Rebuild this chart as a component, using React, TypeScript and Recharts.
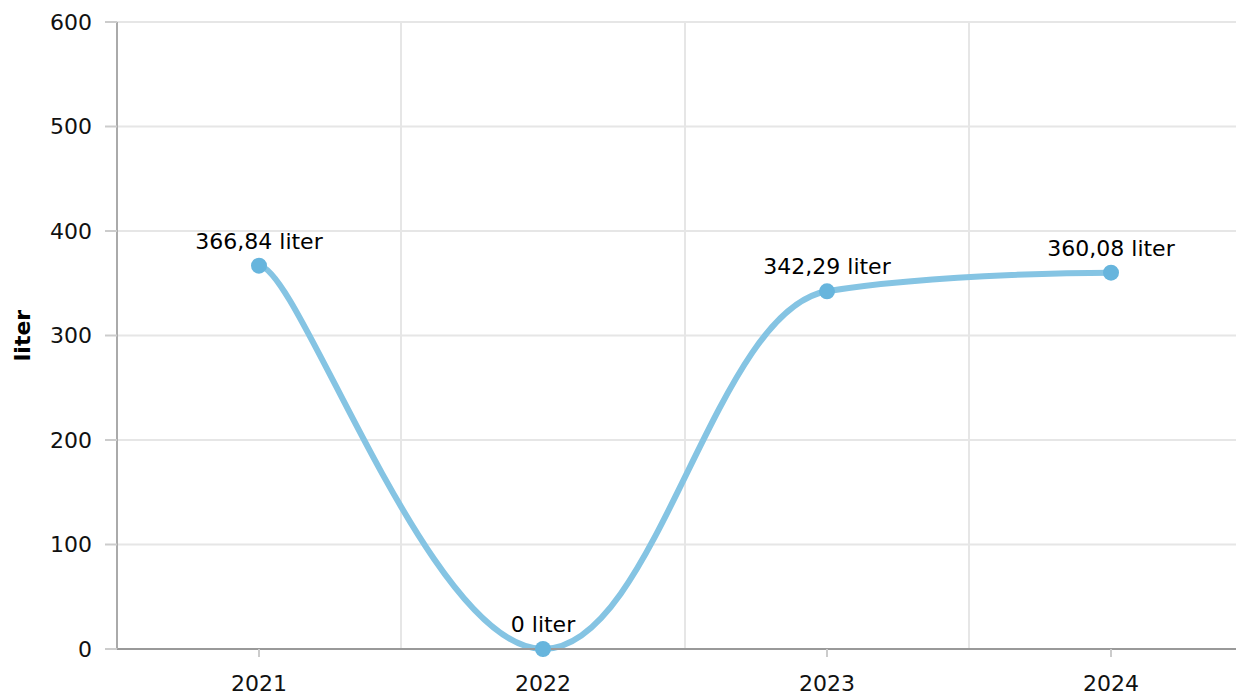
import { LineChart, Line, XAxis, YAxis, CartesianGrid, ReferenceLine, LabelList } from 'recharts';

const years = ['2021', '2022', '2023', '2024'];
const values = [366.84, 0, 342.29, 360.08];
const yTicks = [0, 100, 200, 300, 400, 500, 600];
const bandEdges = [0.5, 1.5, 2.5, 3.5];

const data = years.map((year, i) => ({ idx: i, year, value: values[i] }));

const FONT = '"DejaVu Sans", Verdana, sans-serif';

const fmt = (v: number) => (v === 0 ? '0 liter' : `${v.toFixed(2).replace('.', ',')} liter`);

// spline like the source: control points at 1/2.5 of the neighbour distance,
// flattened at local extremes; the first point only gets a short flat handle
function splineCurve(context: any) {
  let pts: [number, number][] = [];
  return {
    areaStart() {},
    areaEnd() {},
    lineStart() {
      pts = [];
    },
    point(x: number, y: number) {
      pts.push([+x, +y]);
    },
    lineEnd() {
      const smoothing = 1.5;
      const denom = smoothing + 1;
      const right: ([number, number] | null)[] = [];
      pts.forEach(([x, y], i) => {
        let left: [number, number] | null = null;
        if (i > 0 && i < pts.length - 1) {
          const [lx, ly] = pts[i - 1];
          const [nx, ny] = pts[i + 1];
          const lcx = (smoothing * x + lx) / denom;
          let lcy = (smoothing * y + ly) / denom;
          const rcx = (smoothing * x + nx) / denom;
          let rcy = (smoothing * y + ny) / denom;
          let corr = 0;
          if (rcx !== lcx) corr = ((rcy - lcy) * (rcx - x)) / (rcx - lcx) + y - rcy;
          lcy += corr;
          rcy += corr;
          if (lcy > ly && lcy > y) {
            lcy = Math.max(ly, y);
            rcy = 2 * y - lcy;
          } else if (lcy < ly && lcy < y) {
            lcy = Math.min(ly, y);
            rcy = 2 * y - lcy;
          }
          if (rcy > ny && rcy > y) {
            rcy = Math.max(ny, y);
            lcy = 2 * y - rcy;
          } else if (rcy < ny && rcy < y) {
            rcy = Math.min(ny, y);
            lcy = 2 * y - rcy;
          }
          left = [lcx, lcy];
          right[i] = [rcx, rcy];
        } else if (i === 0 && pts.length > 1) {
          right[i] = [x + (pts[1][0] - x) * 0.14, y];
        } else {
          right[i] = null;
        }
        if (i === 0) {
          context.moveTo(x, y);
        } else {
          const [px, py] = pts[i - 1];
          const c1 = right[i - 1] || [px, py];
          const c2 = left || [x, y];
          context.bezierCurveTo(c1[0], c1[1], c2[0], c2[1], x, y);
        }
      });
    },
  };
}

export default function App() {
  return (
    <div style={{ width: 1250, height: 687, fontFamily: FONT }}>
      <LineChart width={1250} height={687} data={data} margin={{ top: 14, right: 5, bottom: 0, left: 0 }}>
        <CartesianGrid vertical={false} stroke="#e6e6e6" strokeWidth={2} />
        {bandEdges.map((x) => (
          <ReferenceLine key={x} x={x} stroke="#e6e6e6" strokeWidth={2} />
        ))}
        <XAxis
          dataKey="idx"
          type="number"
          domain={[-0.5, 3.5]}
          ticks={[0, 1, 2, 3]}
          tickFormatter={(v) => years[v]}
          height={46}
          stroke="#999"
          strokeWidth={2}
          tickSize={8}
          tickMargin={18}
          tick={{ fill: '#111', fontSize: 22, fontFamily: FONT }}
          tickLine={{ stroke: '#ccc' }}
        />
        <YAxis
          domain={[0, 600]}
          ticks={yTicks}
          width={109}
          stroke="#aaa"
          strokeWidth={2}
          tickSize={12}
          tickMargin={13}
          tick={{ fill: '#111', fontSize: 22, fontFamily: FONT }}
          tickLine={{ stroke: '#ccc' }}
          label={{
            value: 'liter',
            angle: -90,
            position: 'insideLeft',
            offset: 14,
            style: { fontWeight: 'bold', fontSize: 22, fill: '#000', fontFamily: FONT, textAnchor: 'middle' },
          }}
        />
        <Line
          type={splineCurve as any}
          dataKey="value"
          stroke="#85c4e3"
          strokeWidth={6}
          dot={{ r: 8, fill: '#67b5dd', stroke: 'none' }}
          activeDot={false}
          isAnimationActive={false}
        >
          <LabelList
            dataKey="value"
            position="top"
            offset={17}
            formatter={(v: number) => fmt(v)}
            style={{ fill: '#000', fontSize: 22, fontFamily: FONT }}
          />
        </Line>
      </LineChart>
    </div>
  );
}
